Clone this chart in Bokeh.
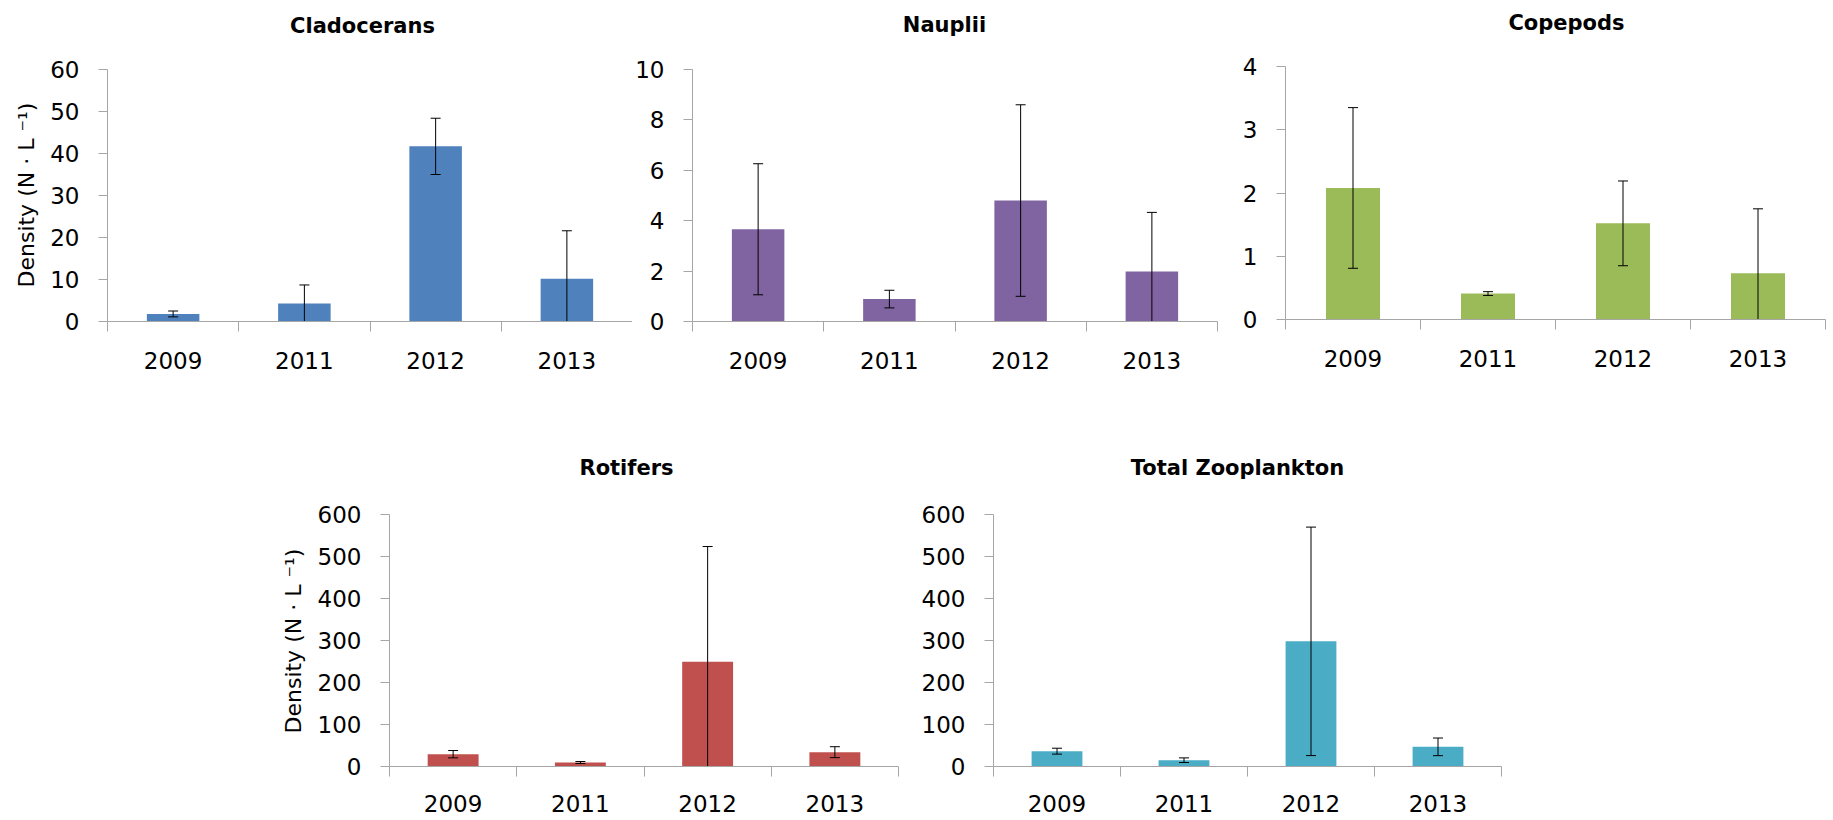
from bokeh.plotting import figure
from bokeh.models import Range1d, FixedTicker, Spacer, Label, Title
from bokeh.layouts import row, column
from bokeh.embed import file_html
from bokeh.resources import INLINE

# ---------------- data ----------------
years = ["2009", "2011", "2012", "2013"]

clado_mean = [1.8, 4.3, 41.7, 10.2]
clado_err = [0.7, 4.4, 6.7, 11.4]

naup_mean = [3.66, 0.89, 4.8, 1.98]
naup_err = [2.6, 0.35, 3.8, 2.35]

cope_mean = [2.08, 0.41, 1.52, 0.73]
cope_err = [1.27, 0.03, 0.67, 1.02]

roti_mean = [29.3, 9.5, 249.7, 34.1]
roti_err = [8.7, 2.4, 274.0, 13.0]

total_mean = [36.5, 15.0, 298.0, 46.8]
total_err = [7.0, 5.5, 272.0, 21.0]

clado_ticks = [0, 10, 20, 30, 40, 50, 60]
naup_ticks = [0, 2, 4, 6, 8, 10]
cope_ticks = [0, 1, 2, 3, 4]
roti_ticks = [0, 100, 200, 300, 400, 500, 600]
total_ticks = [0, 100, 200, 300, 400, 500, 600]

ylabel = "Density (N \u00b7 L \u207b\u00b9)"

FONT = "DejaVu Sans"
AXIS_GRAY = "#a6a6a6"


def panel(title, means, errs, yticks, color, fw, fh, extra, bl, br, bb,
          title_dx, title_dy, xstand, ylab_offset=None):
    """fh: pixel height of the value axis; extra: room above it (title area)."""
    n = len(years)
    xs = [i + 0.5 for i in range(n)]
    y0, y1 = yticks[0], yticks[-1]
    y_end = y0 + (y1 - y0) * (fh + extra) / fh
    p = figure(
        x_range=Range1d(0, n), y_range=Range1d(y0, y_end),
        frame_width=fw, frame_height=fh + extra,
        min_border_left=bl, min_border_right=br,
        min_border_top=0, min_border_bottom=bb,
        output_backend="svg", toolbar_location=None,
    )
    p.outline_line_color = None
    p.xgrid.visible = False
    p.ygrid.visible = False
    p.background_fill_color = "white"
    p.border_fill_color = "white"

    p.vbar(x=xs, top=means, bottom=0, width=0.4, fill_color=color, line_color=None)
    lo = [m - e for m, e in zip(means, errs)]
    hi = [m + e for m, e in zip(means, errs)]
    p.segment(x0=xs, y0=lo, x1=xs, y1=hi, line_color="black", line_width=1)
    p.scatter(x=xs + xs, y=lo + hi, marker="dash", size=10,
              line_color="black", line_width=1)

    # chart title
    p.add_layout(Label(
        x=title_dx, y=fh + title_dy, x_units="screen", y_units="screen",
        text=title, text_font=FONT, text_font_size="21px",
        text_font_style="bold", text_color="black",
        text_align="center", text_baseline="alphabetic",
    ))

    # x axis: labels at category centers, ticks at category boundaries
    xa = p.xaxis[0]
    xa.ticker = FixedTicker(ticks=xs, minor_ticks=list(range(n + 1)))
    xa.major_label_overrides = {x: y for x, y in zip(xs, years)}
    xa.major_tick_line_color = None
    xa.major_tick_out = 10
    xa.major_tick_in = 0
    xa.minor_tick_out = 10
    xa.minor_tick_in = 0
    xa.minor_tick_line_color = AXIS_GRAY
    xa.axis_line_color = AXIS_GRAY
    xa.major_label_standoff = xstand
    xa.major_label_text_font = FONT
    xa.major_label_text_font_size = "23px"
    xa.major_label_text_color = "black"

    # y axis (line limited to the tick span)
    ya = p.yaxis[0]
    ya.bounds = (y0, y1)
    ya.ticker = FixedTicker(ticks=yticks, minor_ticks=[])
    ya.major_tick_out = 9
    ya.major_tick_in = 0
    ya.major_tick_line_color = AXIS_GRAY
    ya.axis_line_color = AXIS_GRAY
    ya.minor_tick_line_color = None
    ya.major_label_standoff = 19
    ya.major_label_text_font = FONT
    ya.major_label_text_font_size = "23px"
    ya.major_label_text_color = "black"
    if ylab_offset is not None:
        p.add_layout(Title(
            text=ylabel, align="left", offset=ylab_offset, standoff=18,
            text_font=FONT, text_font_size="22px", text_font_style="normal",
            text_color="black",
        ), "left")
    return p


p1 = panel("Cladocerans", clado_mean, clado_err, clado_ticks, "#4F81BD",
           525, 252, 69, 107, 0, 69, 255, 44, 20, 34)
p2 = panel("Nauplii", naup_mean, naup_err, naup_ticks, "#8064A2",
           525, 252, 69, 60, 8, 69, 252, 45, 20)
p3 = panel("Copepods", cope_mean, cope_err, cope_ticks, "#9BBB59",
           540, 253, 66, 60, 6, 71, 281, 44, 20)
p4 = panel("Rotifers", roti_mean, roti_err, roti_ticks, "#C0504D",
           509, 252, 124, 123, 10, 54, 237, 47, 18, 33)
p5 = panel("Total Zooplankton", total_mean, total_err, total_ticks, "#4BACC6",
           508, 252, 124, 85, 10, 54, 244, 47, 18)

layout = column(row(p1, p2, p3), row(Spacer(width=266, height=10), p4, p5))

open("out.html", "w").write(file_html(layout, INLINE))
